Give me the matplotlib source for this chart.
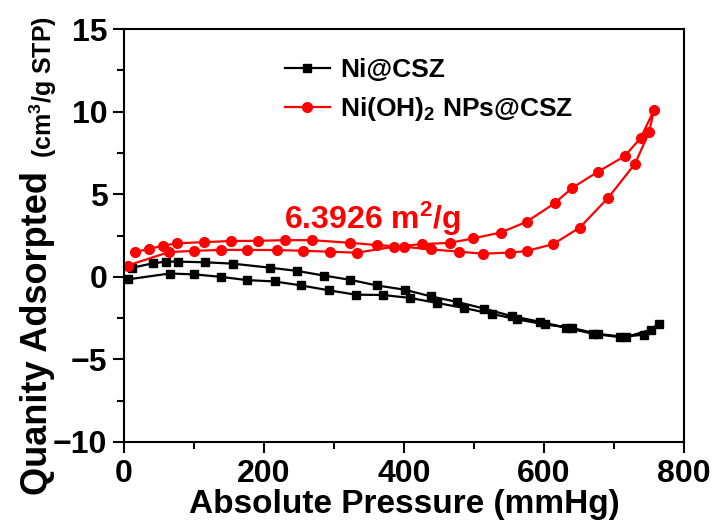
import matplotlib
matplotlib.use("Agg")
import matplotlib.pyplot as plt

plt.rcParams['font.family'] = ['Liberation Sans', 'DejaVu Sans']
plt.rcParams['font.weight'] = 'bold'
plt.rcParams['mathtext.fontset'] = 'custom'
plt.rcParams['mathtext.rm'] = 'Liberation Sans:bold'
plt.rcParams['mathtext.bf'] = 'Liberation Sans:bold'
plt.rcParams['mathtext.it'] = 'Liberation Sans:bold'

# Ni@CSZ: adsorption then desorption, one continuous line
ni_p = [6, 65, 100, 138, 176, 215, 253, 293, 331, 370, 409, 447, 485, 526, 562,
        601, 640, 677, 717, 753, 764,
        743, 708, 670, 632, 594, 554, 514, 476, 438, 401, 361, 323, 285, 247,
        209, 155, 116, 77, 60, 41, 12]
ni_q = [-0.15, 0.2, 0.15, 0.0, -0.2, -0.28, -0.52, -0.82, -1.08, -1.1, -1.28, -1.58,
        -1.88, -2.25, -2.58, -2.88, -3.1, -3.45, -3.65, -3.2, -2.85,
        -3.5, -3.65, -3.45, -3.08, -2.72, -2.38, -1.92, -1.52, -1.18, -0.78, -0.52,
        -0.18, 0.08, 0.36, 0.55, 0.8, 0.88, 0.92, 0.92, 0.82, 0.55]

# Ni(OH)2 NPs@CSZ
nioh_p = [5, 64, 100, 138, 176, 218, 255, 294, 333, 386, 426, 466, 499, 538, 575,
          615, 640, 677, 715, 738, 757,
          750, 730, 692, 651, 613, 575, 552, 513, 479, 439, 400, 362, 323, 268,
          230, 191, 153, 114, 76, 55, 35, 15]
nioh_q = [0.68, 1.5, 1.57, 1.63, 1.63, 1.62, 1.58, 1.52, 1.46, 1.83, 1.98, 2.06, 2.33,
          2.68, 3.33, 4.45, 5.38, 6.36, 7.3, 8.4, 10.08,
          8.75, 6.85, 4.8, 2.98, 1.98, 1.56, 1.47, 1.4, 1.52, 1.66, 1.82, 1.92,
          2.06, 2.22, 2.22, 2.18, 2.17, 2.1, 2.03, 1.88, 1.68, 1.5]

area_label = r"6.3926 m$^2$/g"

fig = plt.figure(figsize=(7.14, 5.24), dpi=100)
ax = fig.add_axes([0.1737, 0.1565, 0.7843, 0.788])

ax.plot(ni_p, ni_q, color='black', lw=1.6, marker='s', ms=6, label='Ni@CSZ')
ax.plot(nioh_p, nioh_q, color='red', lw=1.6, marker='o', ms=7,
        label=r'Ni(OH)$_2$ NPs@CSZ')

ax.text(228, 2.9, area_label, color='red', fontsize=23, fontweight='bold',
        ha='left', va='baseline')

ax.set_xlim(0, 800)
ax.set_ylim(-10, 15)
ax.set_xticks([0, 200, 400, 600, 800])
ax.set_xticks([100, 300, 500, 700], minor=True)
ax.set_yticks([-10, -5, 0, 5, 10, 15])
ax.set_yticks([-7.5, -2.5, 2.5, 7.5, 12.5], minor=True)
ax.tick_params(which='major', direction='out', length=8, width=1.5, labelsize=23,
               pad=4)
ax.tick_params(which='minor', direction='out', length=5, width=1.5)
ax.tick_params(top=False, right=False)
for s in ax.spines.values():
    s.set_linewidth(1.5)

ax.set_xlabel('Absolute Pressure (mmHg)', fontsize=24, fontweight='bold', labelpad=0)

fig.text(0.052, 0.365, 'Quanity Adsorpted', rotation=90, fontsize=26,
         fontweight='bold', ha='center', va='center')
fig.text(0.061, 0.834, r'(cm$^3$/g STP)', rotation=90, fontsize=18,
         fontweight='bold', ha='center', va='center')

leg = ax.legend(loc='upper left', bbox_to_anchor=(0.2875, 0.93), frameon=False,
                fontsize=19, handlelength=1.7, handletextpad=0.4, borderpad=0,
                borderaxespad=0, labelspacing=0.5)

fig.savefig('out.png', dpi=100)
